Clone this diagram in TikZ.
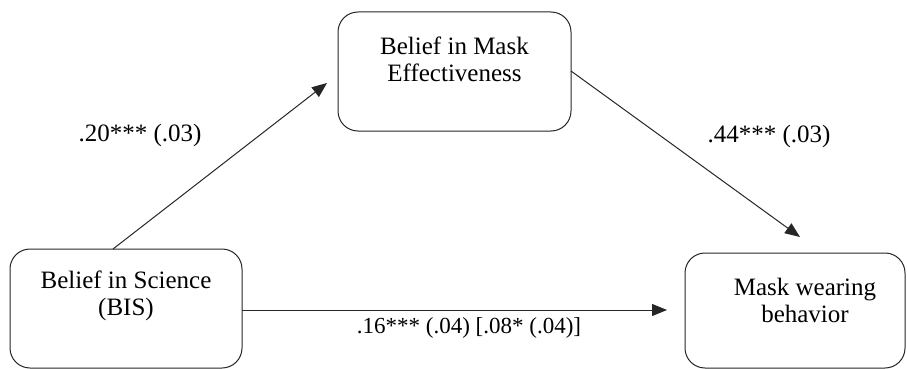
\documentclass[tikz,border=0pt]{standalone}
\usepackage{fontspec}
\setmainfont{Liberation Serif}
\usetikzlibrary{arrows.meta}
\begin{document}
\begin{tikzpicture}[x=1pt,y=-1pt,
  box/.style={draw=black!85,line width=1pt,rounded corners=20pt,inner sep=0pt},
  lbl/.style={inner sep=0pt,font=\fontsize{25}{27}\selectfont},
  txt/.style={inner sep=0pt,align=center,font=\fontsize{25}{27}\selectfont},
  conn/.style={draw=black!85,line width=1pt,-{Triangle[length=15pt,width=12pt]}}]
\useasboundingbox (0,0) rectangle (907,369);
\node[box,minimum width=232pt,minimum height=119pt] (bis) at (126,308.5) {};
\node[box,minimum width=233pt,minimum height=119pt] (bme) at (454.5,71.5) {};
\node[box,minimum width=220pt,minimum height=115pt] (mwb) at (795,310.5) {};
\node[txt] (bist) at ([yshift=13pt]bis.center) {Belief in Science\\(BIS)};
\node[txt] (bmet) at ([yshift=12pt]bme.center) {Belief in Mask\\Effectiveness};
\node[txt] (mwbt) at ([xshift=10pt,yshift=10pt]mwb.center) {Mask wearing\\behavior};
\coordinate (a1s) at (113,249);
\coordinate (a1e) at (327,83);
\coordinate (a2s) at (571,71);
\coordinate (a2e) at (800,237);
\coordinate (a3s) at (242,310);
\coordinate (a3e) at (667,310);
\draw[conn] (a1s) -- (a1e);
\draw[conn] (a2s) -- (a2e);
\draw[conn] (a3s) -- (a3e);
\node[lbl,anchor=base] (l1) at (140,141) {.20*** (.03)};
\node[lbl,anchor=base] (l2) at (769,142) {.44*** (.03)};
\node[lbl,anchor=base,font=\fontsize{23}{27}\selectfont] (l3) at (469,333) {.16*** (.04) [.08* (.04)]};
\end{tikzpicture}
\end{document}
